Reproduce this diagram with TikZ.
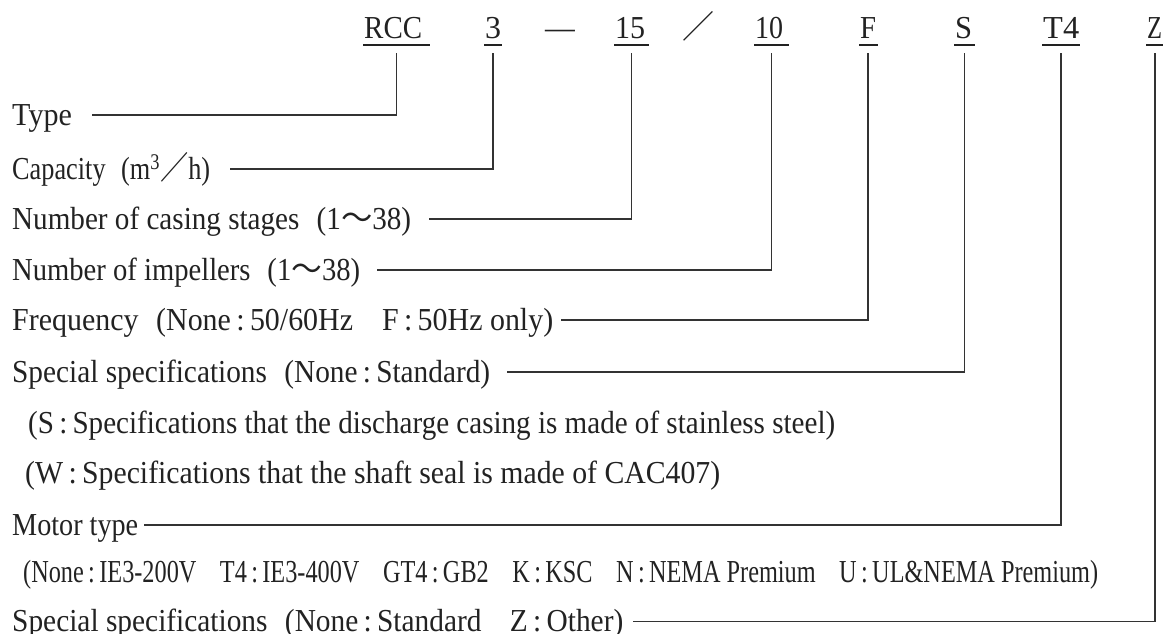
\documentclass[tikz,border=0pt]{standalone}
\usepackage{fontspec}
\setmainfont{Liberation Serif}[FakeStretch=0.93]
\newfontfamily\cjk{Noto Sans CJK JP}
\usepackage{graphicx}
\newcommand\fw[2]{\resizebox{#1pt}{\height}{#2}}
\newcommand\sep{\hspace{0.55em}}
\definecolor{txt}{HTML}{222222}
\definecolor{ln}{HTML}{333333}
\begin{document}
\begin{tikzpicture}[x=1pt,y=-1pt,
  every node/.style={font=\fontsize{32}{38}\selectfont, text=txt},
  lab/.style={anchor=west, inner sep=0pt, text height=20pt, text depth=0pt},
  sub/.style={anchor=base west, inner sep=0pt},
  hd/.style={anchor=base west, inner sep=0pt},
  ul/.style={fill=txt, draw=none, minimum height=2pt, inner sep=0pt},
  conn/.style={draw=ln, line width=1.1pt}]
\useasboundingbox (0,0) rectangle (1163,634);
% header codes
\node[hd] (hRCC) at (364,39) {\fw{58}{RCC}};
\node[hd] (h3) at (485,39) {\fw{16}{3}};
\node[hd] (hDash) at (545,39) {—};
\node[hd] (h15) at (615,39) {\fw{30}{15}};
\node[hd, anchor=base] (hSl) at (698.5,39) {\cjk ／};
\node[hd] (h10) at (755,39) {\fw{28}{10}};
\node[hd] (hF) at (860,39) {\fw{16}{F}};
\node[hd] (hS) at (955,39) {\fw{17}{S}};
\node[hd] (hT4) at (1043,39) {\fw{36}{T4}};
\node[hd] (hZ) at (1147,39) {\fw{15}{Z}};
% underlines
\node[ul, minimum width=67pt] (uRCC) at (396.5,45.5) {};
\node[ul, minimum width=18pt] (u3) at (493,45.5) {};
\node[ul, minimum width=35pt] (u15) at (631.5,45.5) {};
\node[ul, minimum width=35pt] (u10) at (771.5,45.5) {};
\node[ul, minimum width=19pt] (uF) at (868,45.5) {};
\node[ul, minimum width=21pt] (uS) at (964.5,45.5) {};
\node[ul, minimum width=38pt] (uT4) at (1061,45.5) {};
\node[ul, minimum width=18pt] (uZ) at (1155,45.5) {};
% labels
\node[lab] (lType) at (12,115) {\fw{59.7}{Type}};
\node[lab] (lCap) at (12,169) {\fw{198}{Capacity\sep(m\textsuperscript{3}{\cjk ／}h)}};
\node[lab] (lCas) at (12,219) {\fw{399}{Number of casing stages\sep(1{\cjk ～}38)}};
\node[lab] (lImp) at (12,270) {\fw{348}{Number of impellers\sep(1{\cjk ～}38)}};
\node[lab] (lFrq) at (12,320) {\fw{541}{Frequency\sep(None\,:\,50/60Hz\hspace{0.9em}F\,:\,50Hz only)}};
\node[lab] (lSp) at (12,372) {\fw{478}{Special specifications\sep(None\,:\,Standard)}};
\node[sub] (lS) at (28,433) {\fw{807}{(S\,:\,Specifications that the discharge casing is made of stainless steel)}};
\node[sub] (lW) at (25,483) {\fw{695}{(W\,:\,Specifications that the shaft seal is made of CAC407)}};
\node[lab] (lMot) at (12,525) {\fw{126}{Motor type}};
\node[sub] (lNone) at (23,582) {\fw{1075}{(None\,:\,IE3-200V\hspace{0.9em}T4\,:\,IE3-400V\hspace{0.9em}GT4\,:\,GB2\hspace{0.9em}K\,:\,KSC\hspace{0.9em}N\,:\,NEMA Premium\hspace{0.9em}U\,:\,UL\&NEMA Premium)}};
\node[lab] (lZ) at (12,621.7) {\fw{611}{Special specifications\sep(None\,:\,Standard\hspace{0.9em}Z\,:\,Other)}};
% connectors
\draw[conn] ([xshift=20pt]lType.east) -| ([yshift=-6.5pt]uRCC.south);
\draw[conn] ([xshift=20pt]lCap.east) -| ([yshift=-6.5pt]u3.south);
\draw[conn] ([xshift=18pt]lCas.east) -| ([yshift=-6.5pt]u15.south);
\draw[conn] ([xshift=17pt]lImp.east) -| ([yshift=-6.5pt]u10.south);
\draw[conn] ([xshift=8pt]lFrq.east) -| ([yshift=-6.5pt]uF.south);
\draw[conn] ([xshift=17pt]lSp.east) -| ([yshift=-6.5pt]uS.south);
\draw[conn] ([xshift=6pt]lMot.east) -| ([yshift=-6.5pt]uT4.south);
\draw[conn] ([xshift=10pt]lZ.east) -| ([yshift=-6.5pt]uZ.south);
\end{tikzpicture}
\end{document}
